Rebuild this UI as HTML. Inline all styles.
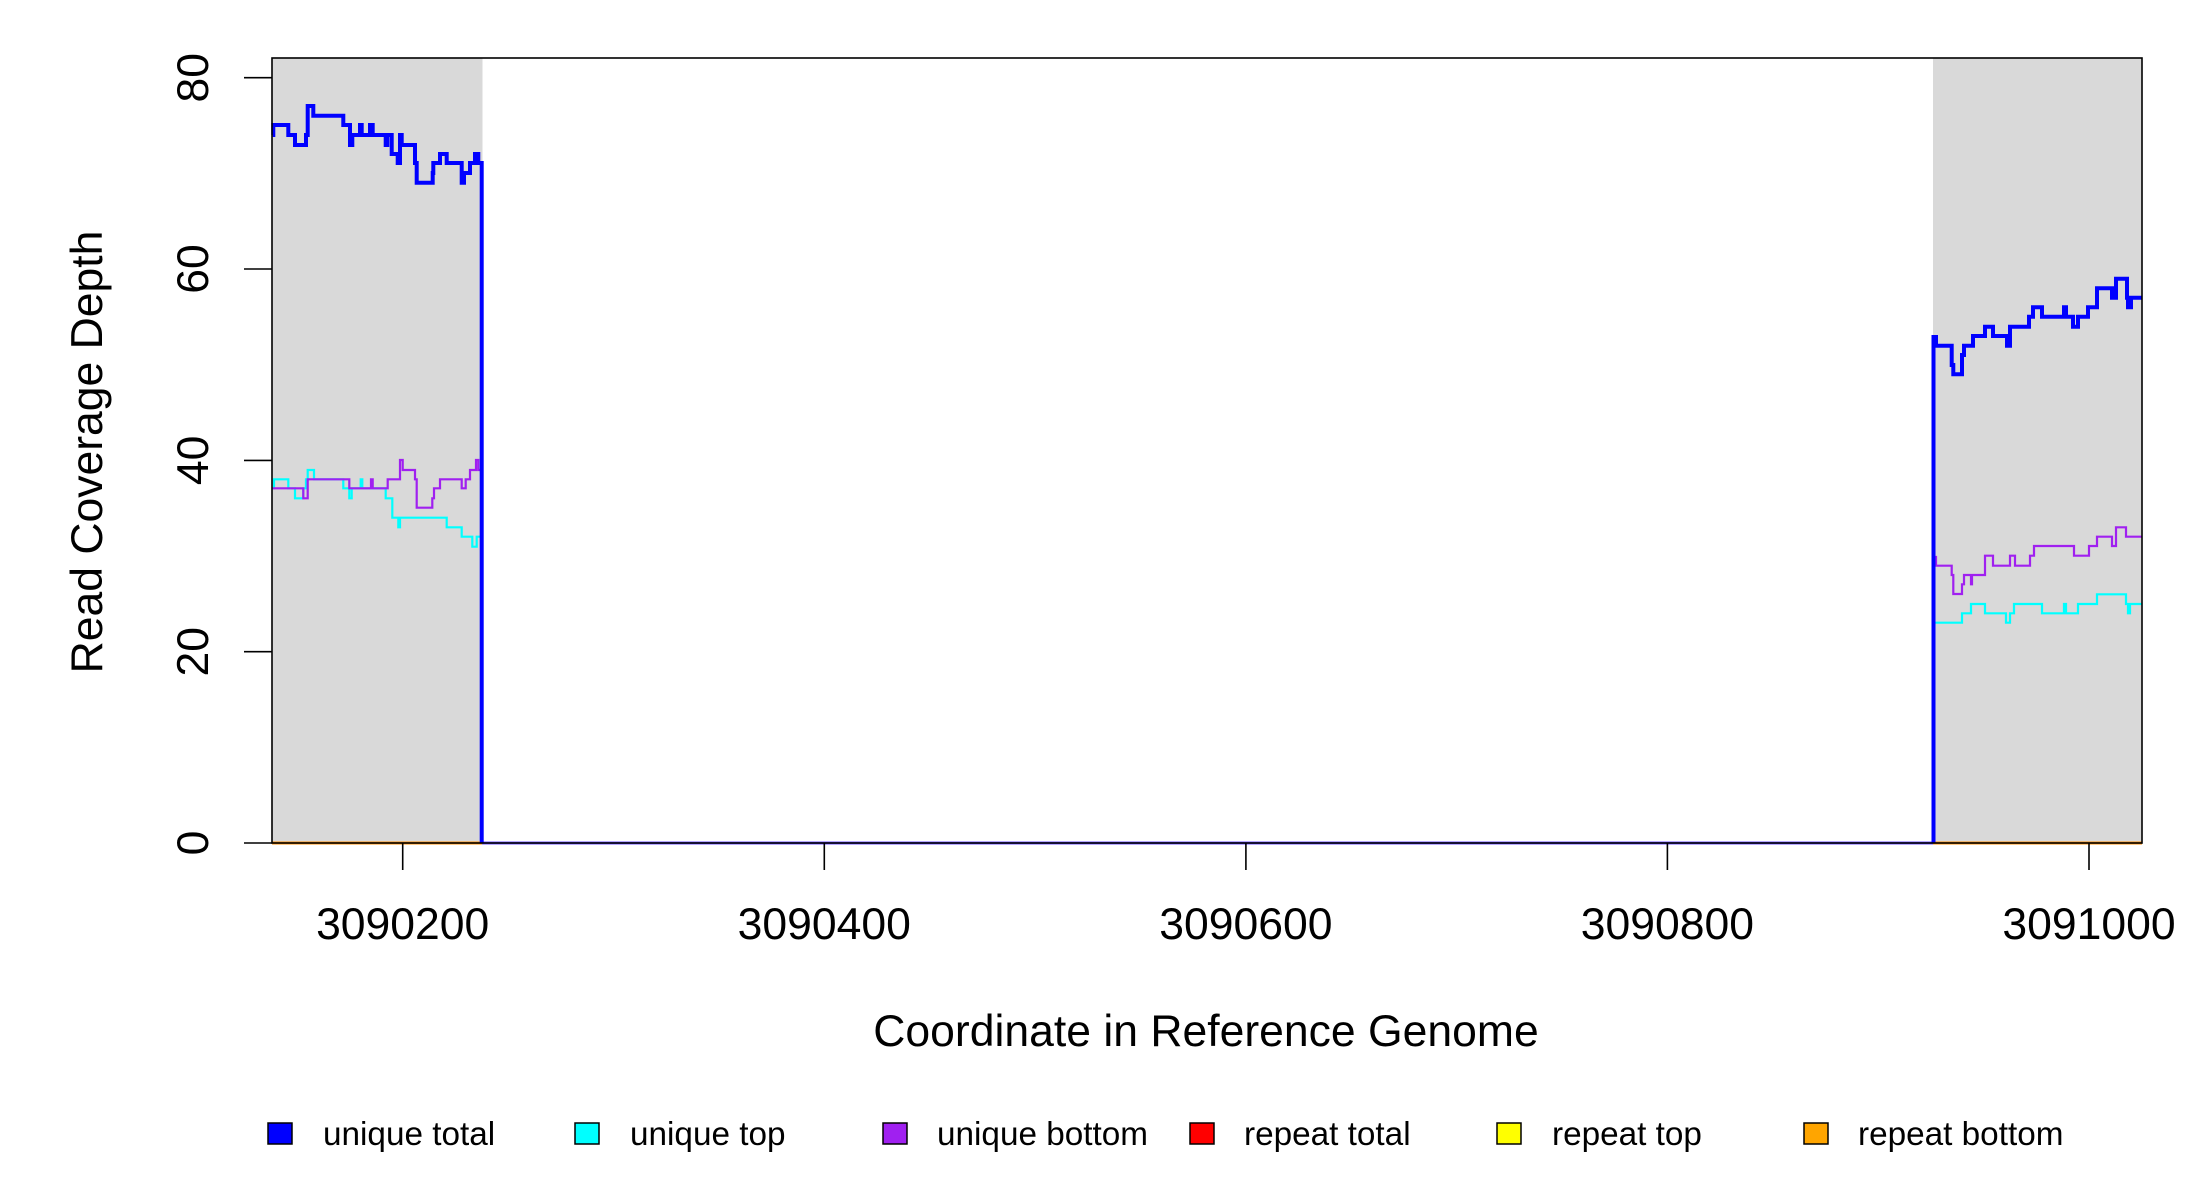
<!DOCTYPE html>
<html><head><meta charset="utf-8"><style>
html,body{margin:0;padding:0;background:#fff;}
svg{display:block;}
text{font-family:"Liberation Sans",Arial,sans-serif;fill:#000;}
</style></head><body>
<svg width="2200" height="1200" viewBox="0 0 2200 1200" xmlns="http://www.w3.org/2000/svg">
<rect x="0" y="0" width="2200" height="1200" fill="#fff"/>
<rect x="272" y="58" width="210.5" height="785" fill="#d9d9d9"/>
<rect x="1933" y="58" width="209" height="785" fill="#d9d9d9"/>
<line x1="482" y1="843" x2="1933" y2="843" stroke="#6a4cff" stroke-width="3"/>
<line x1="272" y1="843" x2="482" y2="843" stroke="#ff8c00" stroke-width="3"/>
<line x1="1933" y1="843" x2="2142" y2="843" stroke="#ff8c00" stroke-width="3"/>

<polyline fill="none" stroke="#00ffff" stroke-width="2.2" points="272.7,488.3 274,488.3 274,479.3 288.3,479.3 288.3,488.3 295,488.3 295,498.3 303.3,498.3 303.3,488.3 306,488.3 306,479.3 307.7,479.3 307.7,470 314,470 314,479.3 343.3,479.3 343.3,488.3 349.3,488.3 349.3,498.3 351.7,498.3 351.7,488.3 360.7,488.3 360.7,479.3 362.3,479.3 362.3,488.3 385.7,488.3 385.7,498.3 392.3,498.3 392.3,517.7 398.3,517.7 398.3,527.3 400,527.3 400,517.7 446.7,517.7 446.7,527.3 461.7,527.3 461.7,536.7 472.3,536.7 472.3,546.7 476.7,546.7 476.7,536.7 481.7,536.7 481.7,843"/>
<polyline fill="none" stroke="#a020f0" stroke-width="2.2" points="272.7,488.3 303.3,488.3 303.3,498.3 307.7,498.3 307.7,479.3 349.3,479.3 349.3,488.3 371,488.3 371,479.3 372.7,479.3 372.7,488.3 387.7,488.3 387.7,479.3 400,479.3 400,460 402.7,460 402.7,470 415,470 415,479.3 416.7,479.3 416.7,507.7 432.3,507.7 432.3,498.3 434,498.3 434,488.3 440,488.3 440,479.3 461.7,479.3 461.7,488.3 465.7,488.3 465.7,479.3 470,479.3 470,470 476,470 476,460 478.3,460 478.3,470 481.7,470 481.7,843"/>
<polyline fill="none" stroke="#0000ff" stroke-width="4" points="272.7,135 273.3,135 273.3,125 288.3,125 288.3,135 295,135 295,145 306,145 306,135 307.7,135 307.7,106 313.3,106 313.3,115.7 343.3,115.7 343.3,125 350,125 350,145 352.3,145 352.3,135 360,135 360,125 361.7,125 361.7,135 370,135 370,125 372.7,125 372.7,135 385.7,135 385.7,145 387.3,145 387.3,135 391.7,135 391.7,154 397.7,154 397.7,163 400,163 400,135 401.7,135 401.7,145 415,145 415,163 416.7,163 416.7,182.7 432.7,182.7 432.7,173 433.3,173 433.3,163 440,163 440,154 446.7,154 446.7,163 461.7,163 461.7,182.7 464,182.7 464,173 470,173 470,163 475,163 475,154 478.3,154 478.3,163 481.7,163 481.7,843"/>

<polyline fill="none" stroke="#00ffff" stroke-width="2.2" points="1933.5,843 1933.5,622.7 1962,622.7 1962,613.3 1971,613.3 1971,604 1985,604 1985,613.3 2006,613.3 2006,622.7 2010,622.7 2010,613.3 2014,613.3 2014,604 2042,604 2042,613.3 2064,613.3 2064,604 2066,604 2066,613.3 2078,613.3 2078,604 2097,604 2097,594.3 2126,594.3 2126,604 2128,604 2128,613.3 2130,613.3 2130,604 2142,604"/>
<polyline fill="none" stroke="#a020f0" stroke-width="2.2" points="1933.5,843 1933.5,557 1936,557 1936,565.7 1951.7,565.7 1951.7,575 1953.3,575 1953.3,594 1962,594 1962,584.3 1964,584.3 1964,575 1971,575 1971,584.3 1972,584.3 1972,575 1985,575 1985,555.7 1993,555.7 1993,565.7 2010,565.7 2010,555.7 2015,555.7 2015,565.7 2030,565.7 2030,555.7 2034,555.7 2034,546 2074,546 2074,555.7 2089,555.7 2089,546 2097,546 2097,536.7 2112,536.7 2112,546 2116,546 2116,527.3 2126,527.3 2126,536.7 2142,536.7"/>
<polyline fill="none" stroke="#0000ff" stroke-width="4" points="1933.5,843 1933.5,337 1936,337 1936,345.7 1951.7,345.7 1951.7,365 1953.3,365 1953.3,374.3 1962,374.3 1962,355 1964,355 1964,345.7 1973,345.7 1973,336 1985,336 1985,326.7 1993,326.7 1993,336 2007,336 2007,345.7 2010,345.7 2010,326.7 2029,326.7 2029,316.7 2033,316.7 2033,307.3 2042,307.3 2042,316.7 2064,316.7 2064,307.3 2066,307.3 2066,316.7 2073,316.7 2073,326.7 2078,326.7 2078,316.7 2088,316.7 2088,307.3 2097,307.3 2097,288.3 2112,288.3 2112,297.7 2116,297.7 2116,278.7 2127,278.7 2127,297.7 2128,297.7 2128,307.3 2131,307.3 2131,297.7 2142,297.7"/>

<rect x="272" y="58" width="1870" height="785" fill="none" stroke="#000" stroke-width="1.6"/>
<g stroke="#000" stroke-width="1.6">
<line x1="244" y1="843" x2="272" y2="843"/>
<line x1="244" y1="651.7" x2="272" y2="651.7"/>
<line x1="244" y1="460.4" x2="272" y2="460.4"/>
<line x1="244" y1="269" x2="272" y2="269"/>
<line x1="244" y1="77.7" x2="272" y2="77.7"/>
<line x1="402.7" y1="843" x2="402.7" y2="870"/>
<line x1="824.3" y1="843" x2="824.3" y2="870"/>
<line x1="1245.9" y1="843" x2="1245.9" y2="870"/>
<line x1="1667.4" y1="843" x2="1667.4" y2="870"/>
<line x1="2089" y1="843" x2="2089" y2="870"/>
</g>
<g font-size="44.5" text-anchor="middle">
<text transform="translate(208,843) rotate(-90)">0</text>
<text transform="translate(208,651.7) rotate(-90)">20</text>
<text transform="translate(208,460.4) rotate(-90)">40</text>
<text transform="translate(208,269) rotate(-90)">60</text>
<text transform="translate(208,77.7) rotate(-90)">80</text>
<text x="402.7" y="939">3090200</text>
<text x="824.3" y="939">3090400</text>
<text x="1245.9" y="939">3090600</text>
<text x="1667.4" y="939">3090800</text>
<text x="2089" y="939">3091000</text>
<text transform="translate(102,452) rotate(-90)">Read Coverage Depth</text>
<text x="1206" y="1046">Coordinate in Reference Genome</text>
</g>
<g stroke="#000" stroke-width="1.5">
<rect x="268" y="1123" width="24" height="21" fill="#0000ff"/>
<rect x="575" y="1123" width="24" height="21" fill="#00ffff"/>
<rect x="883" y="1123" width="24" height="21" fill="#a020f0"/>
<rect x="1190" y="1123" width="24" height="21" fill="#ff0000"/>
<rect x="1497" y="1123" width="24" height="21" fill="#ffff00"/>
<rect x="1804" y="1123" width="24" height="21" fill="#ffa500"/>
</g>
<g font-size="33.3">
<text x="323" y="1145">unique total</text>
<text x="630" y="1145">unique top</text>
<text x="937" y="1145">unique bottom</text>
<text x="1244" y="1145">repeat total</text>
<text x="1552" y="1145">repeat top</text>
<text x="1858" y="1145">repeat bottom</text>
</g>
</svg>
</body></html>
